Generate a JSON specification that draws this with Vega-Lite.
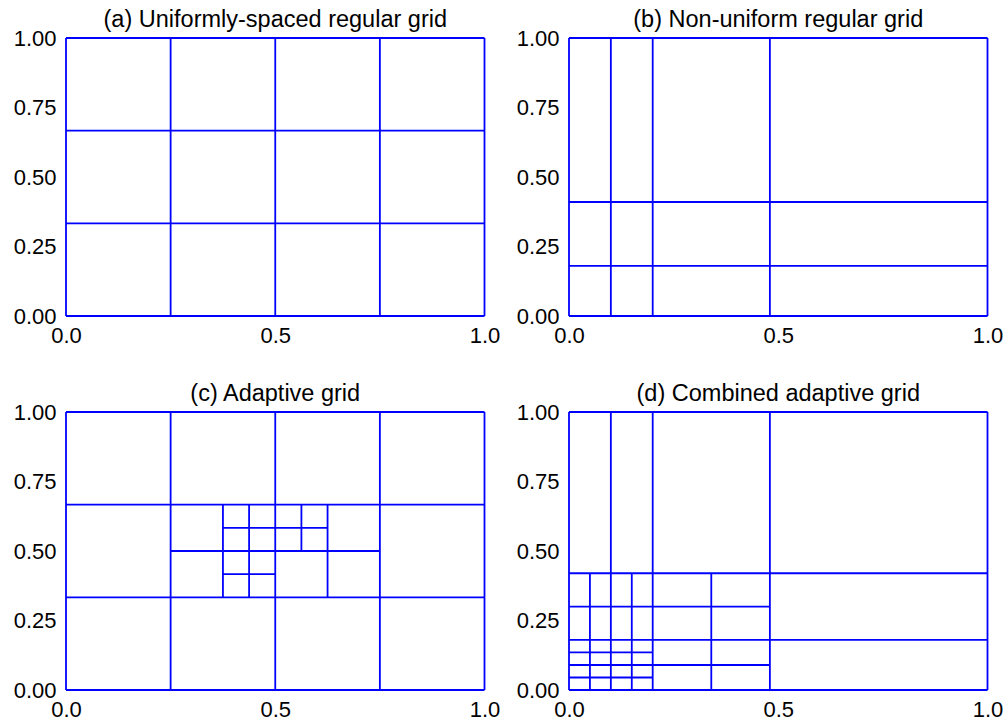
{
  "$schema": "https://vega.github.io/schema/vega-lite/v6.json",
  "padding": {"left": 13, "top": 7, "right": 0, "bottom": 0},
  "background": "white",
  "config": {
    "view": {"stroke": null},
    "font": "Liberation Sans",
    "title": {"fontSize": 23.5, "font": "Liberation Sans", "fontWeight": "normal", "color": "black", "anchor": "middle", "offset": -4},
    "axis": {"labelFont": "Liberation Sans", "labelFontSize": 22, "labelColor": "black", "domain": false, "ticks": false, "grid": false, "title": null, "labelPadding": 10, "labelFlush": false, "labelOverlap": false, "labelBound": false},
    "axisX": {"labelPadding": 9}
  },
  "datasets": {
    "a": [
      {"x1": 0, "x2": 0, "y1": 0, "y2": 1},
      {"x1": 0.25, "x2": 0.25, "y1": 0, "y2": 1},
      {"x1": 0.5, "x2": 0.5, "y1": 0, "y2": 1},
      {"x1": 0.75, "x2": 0.75, "y1": 0, "y2": 1},
      {"x1": 1, "x2": 1, "y1": 0, "y2": 1},
      {"x1": 0, "x2": 1, "y1": 0, "y2": 0},
      {"x1": 0, "x2": 1, "y1": 0.3333, "y2": 0.3333},
      {"x1": 0, "x2": 1, "y1": 0.6667, "y2": 0.6667},
      {"x1": 0, "x2": 1, "y1": 1, "y2": 1}
    ],
    "b": [
      {"x1": 0, "x2": 0, "y1": 0, "y2": 1},
      {"x1": 0.1, "x2": 0.1, "y1": 0, "y2": 1},
      {"x1": 0.2, "x2": 0.2, "y1": 0, "y2": 1},
      {"x1": 0.48, "x2": 0.48, "y1": 0, "y2": 1},
      {"x1": 1, "x2": 1, "y1": 0, "y2": 1},
      {"x1": 0, "x2": 1, "y1": 0, "y2": 0},
      {"x1": 0, "x2": 1, "y1": 0.18, "y2": 0.18},
      {"x1": 0, "x2": 1, "y1": 0.41, "y2": 0.41},
      {"x1": 0, "x2": 1, "y1": 1, "y2": 1}
    ],
    "c": [
      {"x1": 0, "x2": 0, "y1": 0, "y2": 1},
      {"x1": 0.25, "x2": 0.25, "y1": 0, "y2": 1},
      {"x1": 0.5, "x2": 0.5, "y1": 0, "y2": 1},
      {"x1": 0.75, "x2": 0.75, "y1": 0, "y2": 1},
      {"x1": 1, "x2": 1, "y1": 0, "y2": 1},
      {"x1": 0, "x2": 1, "y1": 0, "y2": 0},
      {"x1": 0, "x2": 1, "y1": 0.3333, "y2": 0.3333},
      {"x1": 0, "x2": 1, "y1": 0.6667, "y2": 0.6667},
      {"x1": 0, "x2": 1, "y1": 1, "y2": 1},
      {"x1": 0.25, "x2": 0.75, "y1": 0.5, "y2": 0.5},
      {"x1": 0.375, "x2": 0.375, "y1": 0.3333, "y2": 0.6667},
      {"x1": 0.625, "x2": 0.625, "y1": 0.3333, "y2": 0.6667},
      {"x1": 0.4375, "x2": 0.4375, "y1": 0.3333, "y2": 0.6667},
      {"x1": 0.5625, "x2": 0.5625, "y1": 0.5, "y2": 0.6667},
      {"x1": 0.375, "x2": 0.625, "y1": 0.5833, "y2": 0.5833},
      {"x1": 0.375, "x2": 0.5, "y1": 0.4167, "y2": 0.4167}
    ],
    "d": [
      {"x1": 0, "x2": 0, "y1": 0, "y2": 1},
      {"x1": 0.1, "x2": 0.1, "y1": 0, "y2": 1},
      {"x1": 0.2, "x2": 0.2, "y1": 0, "y2": 1},
      {"x1": 0.48, "x2": 0.48, "y1": 0, "y2": 1},
      {"x1": 1, "x2": 1, "y1": 0, "y2": 1},
      {"x1": 0, "x2": 1, "y1": 0, "y2": 0},
      {"x1": 0, "x2": 1, "y1": 0.18, "y2": 0.18},
      {"x1": 0, "x2": 1, "y1": 0.42, "y2": 0.42},
      {"x1": 0, "x2": 1, "y1": 1, "y2": 1},
      {"x1": 0, "x2": 0.48, "y1": 0.3, "y2": 0.3},
      {"x1": 0, "x2": 0.48, "y1": 0.09, "y2": 0.09},
      {"x1": 0.05, "x2": 0.05, "y1": 0, "y2": 0.42},
      {"x1": 0.15, "x2": 0.15, "y1": 0, "y2": 0.42},
      {"x1": 0.34, "x2": 0.34, "y1": 0, "y2": 0.42},
      {"x1": 0, "x2": 0.2, "y1": 0.135, "y2": 0.135},
      {"x1": 0, "x2": 0.2, "y1": 0.045, "y2": 0.045}
    ]
  },
  "columns": 2,
  "bounds": "flush",
  "spacing": {"row": 96, "column": 84},
  "concat": [
    {
      "title": "(a) Uniformly-spaced regular grid",
      "data": {"name": "a"},
      "width": 418.5, "height": 278,
      "mark": {"type": "rule", "color": "#0000ff", "strokeWidth": 1.8},
      "encoding": {
        "x": {"field": "x1", "type": "quantitative", "scale": {"domain": [0, 1], "nice": false}, "axis": {"values": [0, 0.5, 1], "format": ".1f"}},
        "x2": {"field": "x2"},
        "y": {"field": "y1", "type": "quantitative", "scale": {"domain": [0, 1], "nice": false}, "axis": {"values": [0, 0.25, 0.5, 0.75, 1], "format": ".2f"}},
        "y2": {"field": "y2"}
      }
    },
    {
      "title": "(b) Non-uniform regular grid",
      "data": {"name": "b"},
      "width": 418.5, "height": 278,
      "mark": {"type": "rule", "color": "#0000ff", "strokeWidth": 1.8},
      "encoding": {
        "x": {"field": "x1", "type": "quantitative", "scale": {"domain": [0, 1], "nice": false}, "axis": {"values": [0, 0.5, 1], "format": ".1f"}},
        "x2": {"field": "x2"},
        "y": {"field": "y1", "type": "quantitative", "scale": {"domain": [0, 1], "nice": false}, "axis": {"values": [0, 0.25, 0.5, 0.75, 1], "format": ".2f"}},
        "y2": {"field": "y2"}
      }
    },
    {
      "title": "(c) Adaptive grid",
      "data": {"name": "c"},
      "width": 418.5, "height": 278,
      "mark": {"type": "rule", "color": "#0000ff", "strokeWidth": 1.8},
      "encoding": {
        "x": {"field": "x1", "type": "quantitative", "scale": {"domain": [0, 1], "nice": false}, "axis": {"values": [0, 0.5, 1], "format": ".1f"}},
        "x2": {"field": "x2"},
        "y": {"field": "y1", "type": "quantitative", "scale": {"domain": [0, 1], "nice": false}, "axis": {"values": [0, 0.25, 0.5, 0.75, 1], "format": ".2f"}},
        "y2": {"field": "y2"}
      }
    },
    {
      "title": "(d) Combined adaptive grid",
      "data": {"name": "d"},
      "width": 418.5, "height": 278,
      "mark": {"type": "rule", "color": "#0000ff", "strokeWidth": 1.8},
      "encoding": {
        "x": {"field": "x1", "type": "quantitative", "scale": {"domain": [0, 1], "nice": false}, "axis": {"values": [0, 0.5, 1], "format": ".1f"}},
        "x2": {"field": "x2"},
        "y": {"field": "y1", "type": "quantitative", "scale": {"domain": [0, 1], "nice": false}, "axis": {"values": [0, 0.25, 0.5, 0.75, 1], "format": ".2f"}},
        "y2": {"field": "y2"}
      }
    }
  ]
}
